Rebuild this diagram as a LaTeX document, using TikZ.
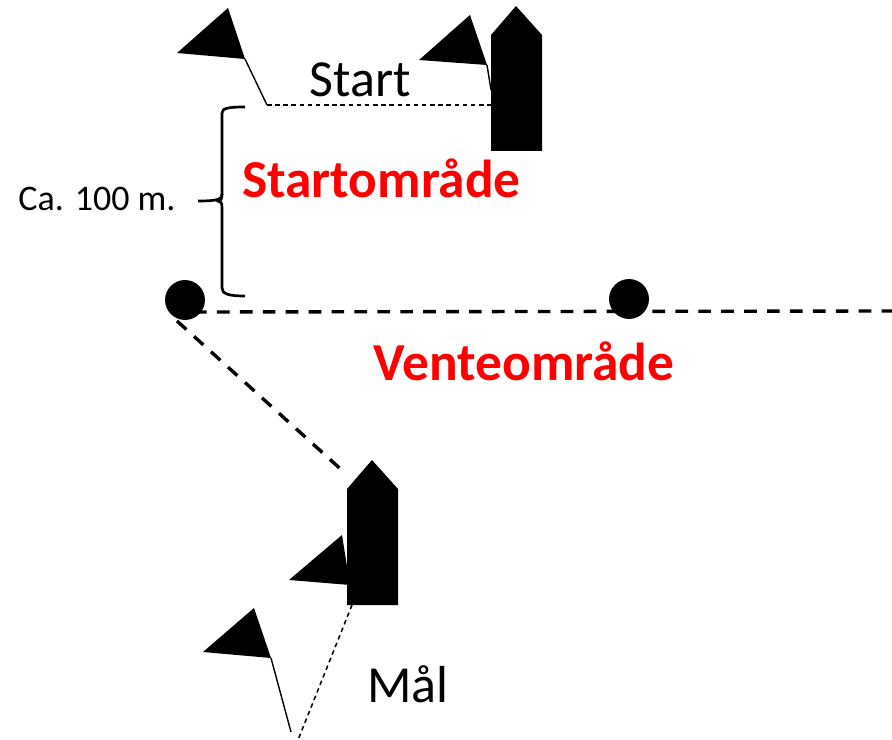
\documentclass[tikz,border=0pt]{standalone}
\usepackage{fontspec}
\setmainfont{Carlito}
\tikzset{
  buoy/.style={circle,fill=black,draw=none,inner sep=0pt,minimum size=28.4pt},
  pennant/.style={fill=black,draw=none},
  hull/.style={fill=black,draw=none},
  pole/.style={line width=1pt},
  thinline/.style={line width=1.1pt,dash pattern=on 3.2pt off 2.6pt},
  thickline/.style={line width=2.4pt,dash pattern=on 9pt off 7.3pt},
  bracket/.style={line width=1.9pt},
  area/.style={text=red,font=\bfseries\fontsize{38}{42}\selectfont,inner sep=0pt},
  label/.style={text=black,inner sep=0pt}
}
\begin{document}
\begin{tikzpicture}[x=0.025cm,y=-0.025cm]
  \useasboundingbox (0,0) rectangle (892,740);
  % start line
  \draw
    (267,105) coordinate (startA)
    (491,105) coordinate (startB)
    (245,59) coordinate (poleA)
    (487,65) coordinate (poleB)
    (491,90) coordinate (poleBfoot);
  \fill[pennant] (177,53) -- (228,8) -- (poleA) -- cycle;
  \fill[pennant] (419,60) -- (470,15) -- (poleB) -- cycle;
  \draw[pole] (poleA) -- (startA);
  \draw[pole] (poleB) -- (poleBfoot);
  \draw[thinline] (startA) -- (startB);
  \fill[hull] (491,35) -- (516,6) -- (542,35) -- (542,151) -- (491,151) -- cycle;
  % bracket
  \draw[bracket] (245,107) .. controls (229,107) and (222,108) .. (222,113)
    -- (222,194) .. controls (222,199) and (219,201) .. (198,201);
  \draw[bracket] (222,194) .. controls (222,199) and (221,201) .. (218,201)
    .. controls (221,201) and (222,203) .. (222,208)
    -- (222,288) .. controls (222,294) and (229,296) .. (245,296);
  % buoys
  \draw
    (185,300) node[buoy] (buoyA){}
    (629,299) node[buoy] (buoyB){}
    (892,311) coordinate (lineEnd)
    (194,312) coordinate (lineStart)
    (177,321) coordinate (goalStart)
    (345,473) coordinate (goalEnd);
  \draw[thickline] (lineStart) -- (lineEnd);
  \draw[thickline] (goalStart) -- (goalEnd);
  % goal line
  \draw
    (271,658) coordinate (poleC)
    (291,732) coordinate (poleCfoot)
    (352,605) coordinate (goalA)
    (298,740) coordinate (goalB);
  \fill[pennant] (289,580) -- (342,535) -- (350,585) -- cycle;
  \fill[hull] (372,460) -- (398,489) -- (398,605) -- (347,605) -- (347,489) -- cycle;
  \fill[pennant] (203,652) -- (254,608) -- (poleC) -- cycle;
  \draw[pole] (poleC) -- (poleCfoot);
  \draw[thinline] (goalA) -- (goalB);
  % texts
  \node[label,font=\fontsize{37}{40}\selectfont] (start) at (360.5,80) {Start};
  \node[label,font=\fontsize{37}{40}\selectfont] (goal) at (408,684) {Mål};
  \node[label,font=\fontsize{25.6}{28}\selectfont] (dist) at (97,199) {Ca. 100 m.};
  \node[area] (startarea) at (381.5,178) {Startområde};
  \node[area] (waitarea) at (524,361) {Venteområde};
\end{tikzpicture}
\end{document}
